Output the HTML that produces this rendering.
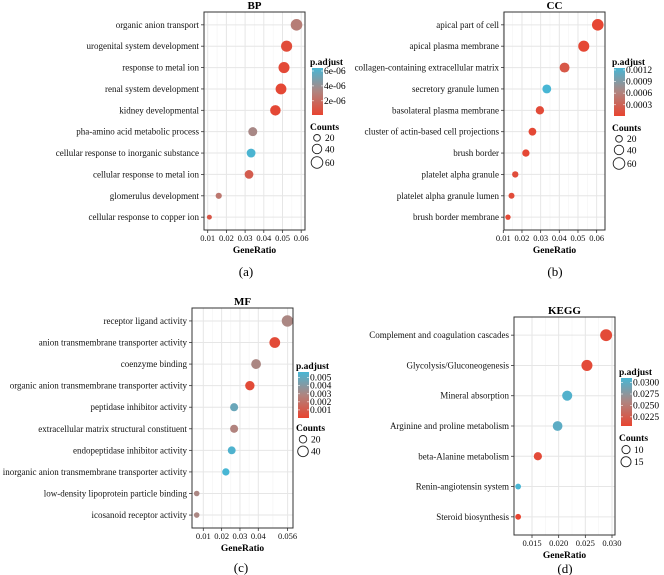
<!DOCTYPE html>
<html><head><meta charset="utf-8"><style>
html,body{margin:0;padding:0;background:#fff;}
svg{display:block;font-family:"Liberation Serif",serif;}
</style></head><body>
<svg id="c" width="664" height="575" xmlns="http://www.w3.org/2000/svg">
<defs><linearGradient id="g" x1="0" y1="1" x2="0" y2="0"><stop offset="0" stop-color="#e84430"/><stop offset="0.5" stop-color="#b0847f"/><stop offset="1" stop-color="#48b6d4"/></linearGradient></defs>
</svg>
<script>
// ---- BP ----
const bpTerms=["organic anion transport","urogenital system development","response to metal ion","renal system development","kidney developmental","pha-amino acid metabolic process","cellular response to inorganic substance","cellular response to metal ion","glomerulus development","cellular response to copper ion"];
const bpRatio=[0.0575,0.0522,0.0508,0.0492,0.0462,0.0341,0.0332,0.0321,0.0159,0.0109];
const bpCount=[60,55,54,52,49,36,35,34,17,11];
const bpP=[2.9e-6,0.5e-6,0.4e-6,0.3e-6,0.3e-6,3.5e-6,6.3e-6,1.3e-6,2.6e-6,1.0e-6];
const bpXTicks=[0.01,0.02,0.03,0.04,0.05,0.06];
const bpXLabels=["0.01","0.02","0.03","0.04","0.05","0.06"];
const bpPTicks=[6e-6,4e-6,2e-6];const bpPLabels=["6e-06","4e-06","2e-06"];
const bpCountTicks=[20,40,60];
// ---- CC ----
const ccTerms=["apical part of cell","apical plasma membrane","collagen-containing extracellular matrix","secretory granule lumen","basolateral plasma membrane","cluster of actin-based cell projections","brush border","platelet alpha granule","platelet alpha granule lumen","brush border membrane"];
const ccRatio=[0.0606,0.0531,0.0428,0.0333,0.0296,0.0256,0.0221,0.0164,0.0144,0.0125];
const ccCount=[60,54,44,35,31,27,24,18,16,13];
const ccP=[0.00003,0.00004,0.0002,0.00125,0.00008,0.00005,0.00004,0.0001,0.00009,0.00006];
const ccXTicks=[0.01,0.02,0.03,0.04,0.05,0.06];
const ccXLabels=["0.01","0.02","0.03","0.04","0.05","0.06"];
const ccPTicks=[0.0012,0.0009,0.0006,0.0003];const ccPLabels=["0.0012","0.0009","0.0006","0.0003"];
const ccCountTicks=[20,40,60];
// ---- MF ----
const mfTerms=["receptor ligand activity","anion transmembrane transporter activity","coenzyme binding","organic anion transmembrane transporter activity","peptidase inhibitor activity","extracellular matrix structural constituent","endopeptidase inhibitor activity","inorganic anion transmembrane transporter activity","low-density lipoprotein particle binding","icosanoid receptor activity"];
const mfRatio=[0.0559,0.0490,0.0388,0.0354,0.0268,0.0268,0.0255,0.0223,0.0064,0.0064];
const mfCount=[46,41,34,31,23,23,22,19,11,11];
const mfP=[0.003,0.0003,0.003,0.0003,0.0048,0.0028,0.0055,0.0057,0.003,0.003];
const mfXTicks=[0.01,0.02,0.03,0.04,0.056];
const mfXLabels=["0.01","0.02","0.03","0.04","0.056"];
const mfPTicks=[0.005,0.004,0.003,0.002,0.001];const mfPLabels=["0.005","0.004","0.003","0.002","0.001"];
const mfCountTicks=[20,40];
// ---- KEGG ----
const kgTerms=["Complement and coagulation cascades","Glycolysis/Gluconeogenesis","Mineral absorption","Arginine and proline metabolism","beta-Alanine metabolism","Renin-angiotensin system","Steroid biosynthesis"];
const kgRatio=[0.0289,0.0253,0.0216,0.0198,0.0161,0.0124,0.0124];
const kgCount=[21,18,15,14,10,5,5];
const kgP=[0.021,0.021,0.0305,0.030,0.021,0.031,0.0205];
const kgXTicks=[0.015,0.020,0.025,0.030];
const kgXLabels=["0.015","0.020","0.025","0.030"];
const kgPTicks=[0.03,0.0275,0.025,0.0225];const kgPLabels=["0.0300","0.0275","0.0250","0.0225"];
const kgCountTicks=[10,15];

const svg=document.getElementById('c');const NS="http://www.w3.org/2000/svg";
function mk(tag,attrs,parent){const e=document.createElementNS(NS,tag);for(const k in attrs)e.setAttribute(k,attrs[k]);(parent||svg).appendChild(e);return e;}
function lerp(a,b,t){return a.map((v,i)=>Math.round(v+(b[i]-v)*t));}
function colorOf(t){t=Math.max(0,Math.min(1,t));const r=[232,68,48],m=[176,132,127],b=[72,182,212];const c=t<0.5?lerp(r,m,t*2):lerp(m,b,(t-0.5)*2);return `rgb(${c})`;}

function panel(o){
  const g=mk('g',{});
  
  
  const xs=v=>o.x0+(v-o.v0)*o.pxPer;
  const n=o.terms.length;const step=(o.bottom-o.top)/(n-1+1.2);
  const ys=i=>o.top+(0.6+i)*step;
  const rs=c=>o.k*Math.sqrt(c);
  const pt=p=>(p-o.pmin)/(o.pmax-o.pmin);
  mk('rect',{x:o.left,y:o.top,width:o.right-o.left,height:o.bottom-o.top,fill:'#fff'},g);
  for(let i=0;i<o.xTicks.length-1;i++){const x=xs((o.xTicks[i]+o.xTicks[i+1])/2);mk('line',{x1:x,x2:x,y1:o.top,y2:o.bottom,stroke:'#f3f3f3','stroke-width':0.6},g);}
  o.xTicks.forEach((v,i)=>{const x=xs(v);
    const l=mk('line',{x1:x,x2:x,y1:o.top,y2:o.bottom,stroke:'#e6e6e6','stroke-width':1},g);
    
    mk('line',{x1:x,x2:x,y1:o.bottom,y2:o.bottom+3,stroke:'#333','stroke-width':0.8},g);
    const t=mk('text',{x:x,y:o.bottom+11,'font-size':8.5,'text-anchor':'middle',fill:'#111'},g);t.textContent=o.xLabels[i];
    });
  o.terms.forEach((term,i)=>{const y=ys(i);
    mk('line',{x1:o.left,x2:o.right,y1:y,y2:y,stroke:'#e6e6e6','stroke-width':1},g);
    mk('line',{x1:o.left-3,x2:o.left,y1:y,y2:y,stroke:'#333','stroke-width':0.8},g);
    const t=mk('text',{x:o.left-5,y:y+3,'font-size':o.fs||9,'text-anchor':'end',fill:'#111'},g);t.textContent=term;
    });
  o.terms.forEach((term,i)=>{
    const c=mk('circle',{cx:xs(o.ratio[i]),cy:ys(i),r:rs(o.count[i]),fill:colorOf(pt(o.p[i]))},g);
    });
  const b=mk('rect',{x:o.left,y:o.top,width:o.right-o.left,height:o.bottom-o.top,fill:'none',stroke:'#333','stroke-width':1},g);
  
  const tt=mk('text',{x:(o.left+o.right)/2,y:o.top-3,'font-size':11,'font-weight':'bold','text-anchor':'middle'},g);tt.textContent=o.title;
  
  const xl=mk('text',{x:(o.left+o.right)/2,y:o.bottom+23,'font-size':9.5,'font-weight':'bold','text-anchor':'middle'},g);xl.textContent='GeneRatio';
  
  const cap=mk('text',{x:o.capX,y:o.capY,'font-size':13,'text-anchor':'middle'},g);cap.textContent=o.cap;
  
  const L=o.leg;
  const lt=mk('text',{x:L.x-2,y:L.barTop-3,'font-size':9.5,'font-weight':'bold'},g);lt.textContent='p.adjust';
  
  const cb=mk('rect',{x:L.x,y:L.barTop,width:11,height:L.barBot-L.barTop,fill:'url(#g)'},g);
  
  const cy=p=>L.barBot-(p-o.pmin)/(o.pmax-o.pmin)*(L.barBot-L.barTop);
  o.pTicks.forEach((p,i)=>{const y=cy(p);
    mk('line',{x1:L.x,x2:L.x+2,y1:y,y2:y,stroke:'#fff','stroke-width':0.6},g);
    mk('line',{x1:L.x+9,x2:L.x+11,y1:y,y2:y,stroke:'#fff','stroke-width':0.6},g);
    const t=mk('text',{x:L.x+12,y:y+3,'font-size':9.5},g);t.textContent=o.pLabels[i];
    });
  const ct=mk('text',{x:L.x-2,y:L.cTitle,'font-size':9.5,'font-weight':'bold'},g);ct.textContent='Counts';
  
  let yy=L.cTitle+3;
  o.countTicks.forEach(c=>{const r=rs(c);yy+=r+1.5;
    const ci=mk('circle',{cx:L.x+5,cy:yy,r:r,fill:'none',stroke:'#222','stroke-width':0.9},g);
    
    const t=mk('text',{x:L.x+13,y:yy+3.3,'font-size':9.5},g);t.textContent=String(c);
    
    yy+=r+1.5;});
}
panel({name:'bp',title:'BP',cap:'(a)',capX:246,capY:276,terms:bpTerms,ratio:bpRatio,count:bpCount,p:bpP,xTicks:bpXTicks,xLabels:bpXLabels,pTicks:bpPTicks,pLabels:bpPLabels,countTicks:bpCountTicks,
  left:204,right:305,top:12,bottom:230,x0:207.7,v0:0.01,pxPer:1870,k:0.75,pmin:0.1e-6,pmax:6.4e-6,
  leg:{x:312,barTop:68,barBot:115,cTitle:130}});
panel({name:'cc',title:'CC',cap:'(b)',capX:555,capY:276,terms:ccTerms,ratio:ccRatio,count:ccCount,p:ccP,xTicks:ccXTicks,xLabels:ccXLabels,pTicks:ccPTicks,pLabels:ccPLabels,countTicks:ccCountTicks,
  left:504,right:605,top:12,bottom:230,x0:503.3,v0:0.01,pxPer:1867,k:0.75,pmin:0.00001,pmax:0.00125,
  leg:{x:614,barTop:68,barBot:116,cTitle:131}});
panel({name:'mf',title:'MF',cap:'(c)',capX:241,capY:572,terms:mfTerms,ratio:mfRatio,count:mfCount,p:mfP,xTicks:mfXTicks,xLabels:mfXLabels,pTicks:mfPTicks,pLabels:mfPLabels,countTicks:mfCountTicks,
  left:192,right:293,top:308,bottom:528,x0:203.3,v0:0.01,pxPer:1833,k:0.84,pmin:0,pmax:0.0057,fs:9,
  leg:{x:298,barTop:372,barBot:418,cTitle:431}});
panel({name:'kegg',title:'KEGG',cap:'(d)',capX:565,capY:573,terms:kgTerms,ratio:kgRatio,count:kgCount,p:kgP,xTicks:kgXTicks,xLabels:kgXLabels,pTicks:kgPTicks,pLabels:kgPLabels,countTicks:kgCountTicks,
  left:514,right:615,top:317,bottom:535,x0:532,v0:0.015,pxPer:5333,k:1.3,pmin:0.0205,pmax:0.031,
  leg:{x:621,barTop:378,barBot:426,cTitle:441}});
</script>
</body></html>
